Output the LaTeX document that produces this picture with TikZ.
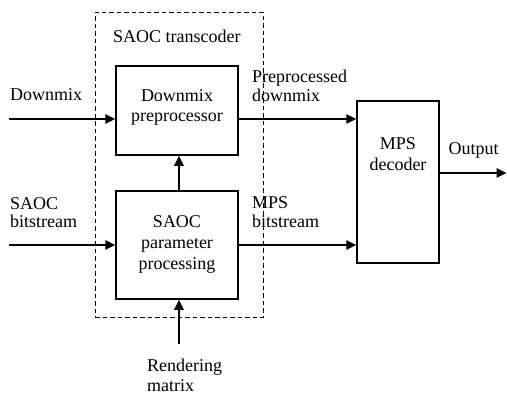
\documentclass[tikz,border=0pt]{standalone}
\usepackage{fontspec}
\setmainfont{Liberation Serif}
\usetikzlibrary{arrows.meta}
\begin{document}
\begin{tikzpicture}[x=1pt,y=-1pt,
  blk/.style={draw, line width=1.5pt, inner sep=0pt},
  arr/.style={line width=1.7pt, -{Triangle[length=10pt,width=9.5pt]}},
  txt/.style={font=\fontsize{18}{20}\selectfont, inner sep=0pt},
  lbl/.style={txt, anchor=base west},
  ctr/.style={txt, anchor=base},
  tcbox/.style={draw, line width=1pt, dash pattern=on 4.5pt off 3pt, inner sep=0pt}
]
\useasboundingbox (0,0) rectangle (507,394);
% transcoder boundary
\node[tcbox, minimum width=168pt, minimum height=305pt] (tc) at (179,164.5) {};
% blocks
\node[blk, minimum width=122pt, minimum height=89pt] (dmp) at (177,110.5) {};
\node[blk, minimum width=122pt, minimum height=108pt] (sapp) at (177,245) {};
\node[blk, minimum width=82pt, minimum height=162pt] (mps) at (398,182) {};
% block texts
\node[ctr] (t1) at (177,101.7) {Downmix};
\node[ctr] (t2) at (177,121) {preprocessor};
\node[ctr] (t3) at (177,227.3) {SAOC};
\node[ctr] (t4) at (177,248.5) {parameter};
\node[ctr] (t5) at (177,269.5) {processing};
\node[ctr] (t6) at (398,149) {MPS};
\node[ctr] (t7) at (398,170) {decoder};
% labels
\node[lbl] (l0) at (113,42) {SAOC transcoder};
\node[lbl] (l1) at (10,100.7) {Downmix};
\node[lbl] (l2) at (252,82) {Preprocessed};
\node[lbl] (l3) at (252,101.7) {downmix};
\node[lbl] (l4) at (10,209.5) {SAOC};
\node[lbl] (l5) at (10,227.3) {bitstream};
\node[lbl] (l6) at (252,208.5) {MPS};
\node[lbl] (l7) at (252,227.3) {bitstream};
\node[lbl] (l8) at (448.5,154) {Output};
\node[lbl] (l9) at (147,371.5) {Rendering};
\node[lbl] (l10) at (147,391) {matrix};
% connectors
\coordinate (dmin) at (9,119);
\coordinate (sain) at (9,245);
\coordinate (outend) at (506.5,173);
\coordinate (vx) at (179,0);
\coordinate (rm) at (179,344);
\draw[arr] (dmin) -- (dmin -| dmp.west);
\draw[arr] (dmp.east |- dmin) -- (mps.west |- dmin);
\draw[arr] (sain) -- (sain -| sapp.west);
\draw[arr] (sapp.east |- sain) -- (mps.west |- sain);
\draw[arr] (mps.east |- outend) -- (outend);
\draw[arr] (vx |- sapp.north) -- (vx |- dmp.south);
\draw[arr] (rm) -- (rm |- sapp.south);
\end{tikzpicture}
\end{document}
